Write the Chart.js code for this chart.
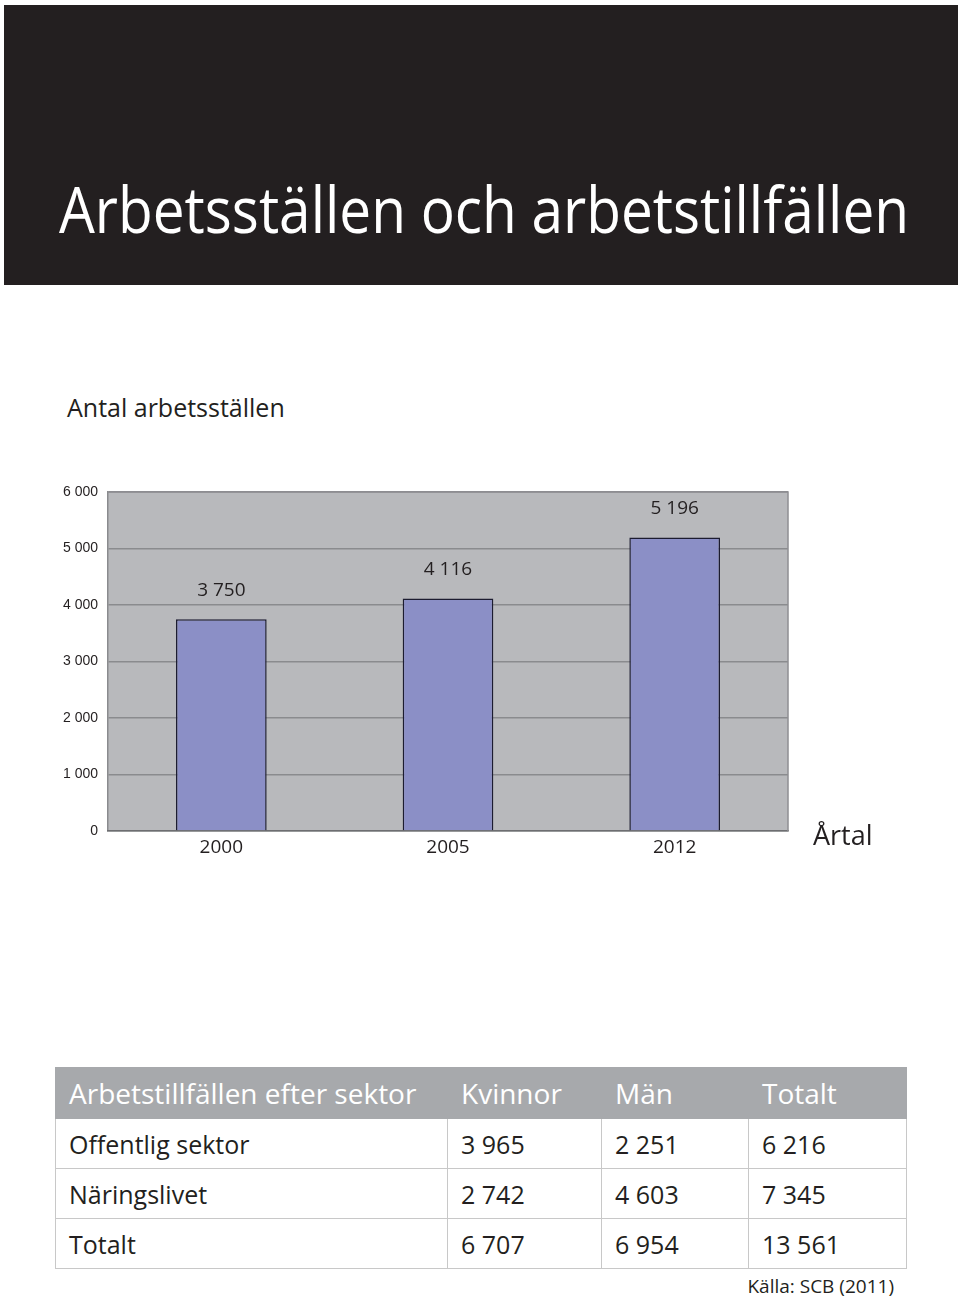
<!DOCTYPE html>
<html>
<head>
<meta charset="utf-8">
<script src="https://cdn.jsdelivr.net/npm/chart.js@4.4.0/dist/chart.umd.min.js"></script>
<style>
  body { margin: 0; width: 960px; height: 1299px; background: #fff; position: relative; font-family: 'Open Sans', sans-serif; overflow: hidden; }
  #header { position: absolute; left: 4px; top: 5px; width: 954px; height: 280px; background: #231f20; }
  #title { position: absolute; left: 55px; top: 172px; color: #fff; font-size: 64px; white-space: nowrap; line-height: 1; transform-origin: 0 0; }
  #subtitle { position: absolute; left: 67px; top: 395px; font-size: 25px; color: #231f20; line-height: 1; }
  #chartWrap { position: absolute; left: 50px; top: 470px; width: 850px; height: 400px; }
  #axisTitle { position: absolute; left: 813px; top: 821px; font-size: 27px; color: #231f20; line-height: 1; }
  table { position: absolute; left: 55px; top: 1067px; width: 851px; table-layout: fixed; border-collapse: collapse; font-size: 25px; color: #231f20; }
  td, th { height: 49px; padding: 0 0 0 13px; text-align: left; font-weight: normal; border: 1.5px solid #c8c8c8; white-space: nowrap; }
  th { background: #a7a9ac; color: #fff; font-size: 28px; border-color: #a7a9ac; height: 50px; }
  #source { position: absolute; right: 66px; top: 1277px; font-size: 19px; color: #231f20; line-height: 1; }
</style>
</head>
<body>
<div id="header"><div id="title">Arbetsställen och arbetstillfällen</div></div>
<div id="subtitle">Antal arbetsställen</div>
<div id="chartWrap"><canvas id="barChart"></canvas></div>
<div id="axisTitle">Årtal</div>
<table id="sectorTable"></table>
<div id="source">Källa: SCB (2011)</div>
<script>
const years = ['2000', '2005', '2012'];
const workplaces = [3750, 4116, 5196];
const yTicks = [0, 1000, 2000, 3000, 4000, 5000, 6000];

const tableHeader = ['Arbetstillfällen efter sektor', 'Kvinnor', 'Män', 'Totalt'];
const sectors = ['Offentlig sektor', 'Näringslivet', 'Totalt'];
const women = [3965, 2742, 6707];
const men = [2251, 4603, 6954];
const totals = [6216, 7345, 13561];

const fmt = v => String(v).replace(/\B(?=(\d{3})+(?!\d))/g, ' ');

// squeeze the title to the width it has in the original
const title = document.getElementById('title');
title.style.transform = `scaleX(${850 / title.scrollWidth})`;

// table
const colWidths = [392, 154, 147, 158];
const tbl = document.getElementById('sectorTable');
let html = '<colgroup>' + colWidths.map(w => `<col style="width:${w}px">`).join('') + '</colgroup>';
html += '<tr>' + tableHeader.map(h => `<th>${h}</th>`).join('') + '</tr>';
sectors.forEach((s, i) => {
  html += `<tr><td>${s}</td><td>${fmt(women[i])}</td><td>${fmt(men[i])}</td><td>${fmt(totals[i])}</td></tr>`;
});
tbl.innerHTML = html;

const plotBackground = {
  id: 'plotBackground',
  beforeDraw(chart) {
    const { ctx, chartArea: a } = chart;
    ctx.save();
    ctx.fillStyle = '#b8b9bc';
    ctx.fillRect(a.left, a.top, a.right - a.left, a.bottom - a.top);
    ctx.restore();
  },
  afterDatasetsDraw(chart) {
    const { ctx, chartArea: a } = chart;
    ctx.save();
    ctx.strokeStyle = '#8e8f92';
    ctx.lineWidth = 1.5;
    ctx.beginPath();
    ctx.moveTo(a.left, a.top);
    ctx.lineTo(a.right, a.top);
    ctx.lineTo(a.right, a.bottom);
    ctx.stroke();
    ctx.restore();
  }
};

const valueLabels = {
  id: 'valueLabels',
  afterDatasetsDraw(chart) {
    const { ctx } = chart;
    ctx.save();
    ctx.font = "19px 'Open Sans', sans-serif";
    ctx.fillStyle = '#231f20';
    ctx.textAlign = 'center';
    ctx.textBaseline = 'middle';
    chart.getDatasetMeta(0).data.forEach((bar, i) => {
      ctx.fillText(fmt(workplaces[i]), bar.x, bar.y - 29);
    });
    ctx.restore();
  }
};

new Chart(document.getElementById('barChart').getContext('2d'), {
  type: 'bar',
  data: {
    labels: years,
    datasets: [{
      data: workplaces,
      backgroundColor: '#8b8fc6',
      borderColor: '#1c1c30',
      borderWidth: 1.5,
      barPercentage: 0.4,
      categoryPercentage: 1
    }]
  },
  options: {
    responsive: true,
    maintainAspectRatio: false,
    animation: false,
    layout: { padding: { top: 22, right: 112, left: 0, bottom: 0 } },
    plugins: { legend: { display: false }, tooltip: { enabled: false } },
    scales: {
      y: {
        min: 0, max: 6000,
        afterBuildTicks: axis => { axis.ticks = yTicks.map(v => ({ value: v })); },
        afterFit: axis => { axis.width = 58; },
        grid: { color: '#8a8b8e', lineWidth: 1.5, drawTicks: false },
        border: { color: '#8a8b8e', width: 1.5 },
        ticks: { color: '#231f20', padding: 10, font: { family: 'Liberation Sans, Arial', size: 14 }, callback: v => fmt(v) }
      },
      x: {
        afterFit: axis => { axis.height = 39; },
        grid: { display: false },
        border: { color: '#6d6e71', width: 1.5 },
        ticks: { color: '#231f20', padding: -3, font: { family: "'Open Sans'", size: 19 } }
      }
    }
  },
  plugins: [plotBackground, valueLabels]
});
</script>
</body>
</html>
